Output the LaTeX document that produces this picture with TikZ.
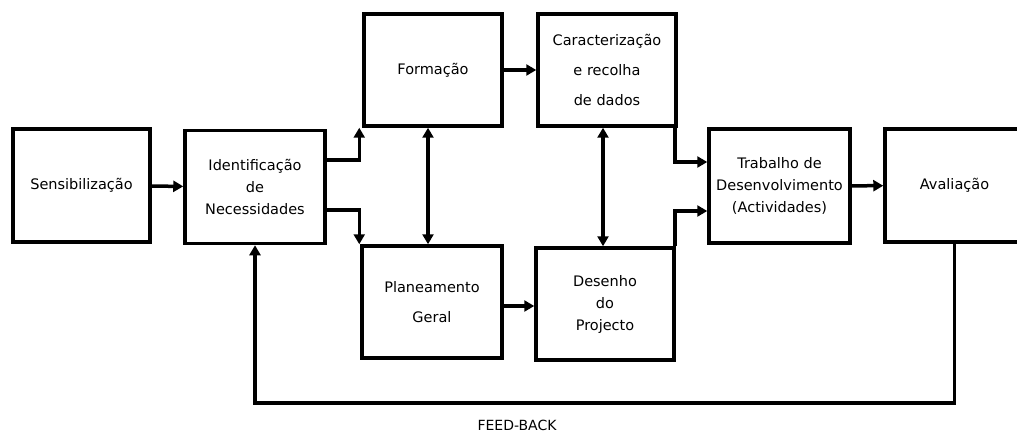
\documentclass[tikz,border=0pt]{standalone}
\usepackage{fontspec}
\setmainfont{DejaVu Sans}
\usetikzlibrary{arrows.meta}
\begin{document}
\begin{tikzpicture}[x=1pt,y=-1pt,line join=miter,
  box/.style={draw, line width=3.5pt, minimum width=138pt, minimum height=112pt, inner sep=0pt, align=center, font=\fontsize{14.5}{22}\selectfont},
  wide/.style={font=\fontsize{14.5}{30}\selectfont},
  arr/.style={line width=3.5pt, -{Triangle[length=10pt,width=11pt]}},
  darr/.style={line width=3.5pt, {Triangle[length=10pt,width=11pt]}-{Triangle[length=10pt,width=11pt]}},
  lbl/.style={font=\fontsize{14}{16}\selectfont}]
\useasboundingbox (0,0) rectangle (1017,433);
\clip (0,0) rectangle (1017,433);
\coordinate (y160) at (0,160);
\coordinate (y210) at (0,210);
\coordinate (y162) at (0,162);
\coordinate (y211) at (0,211);
\coordinate (y306) at (0,306);
\coordinate (y403) at (0,403);
\coordinate (x428) at (428,0);
\coordinate (x603) at (603,0);
\coordinate (x675) at (675,0);

\node[box, minimum width=137pt, minimum height=113pt] (sens) at (81.5,185.5) {Sensibilização};
\node[box, minimum width=140pt, minimum height=113pt] (ident) at (255,187) {Identificação\\de\\Necessidades};
\node[box] (form) at (433,70) {Formação};
\node[box, wide] (carac) at (607,70) {Caracterização\\e recolha\\de dados};
\node[box, wide, minimum width=140pt] (plan) at (432,302) {Planeamento\\Geral};
\node[box] (des) at (605,304) {Desenho\\do\\Projecto};
\node[box, minimum width=141pt, minimum height=114pt] (trab) at (779.5,186) {Trabalho de\\Desenvolvimento\\(Actividades)};
\node[box, minimum width=139pt, minimum height=113pt] (aval) at (954.5,185.5) {Avaliação};

\draw[arr] (sens) -- (ident);
\draw[arr] (ident.east |- y160) -| ([xshift=-3pt]form.south west);
\draw[arr] (ident.east |- y210) -| ([xshift=-1pt]plan.north west);
\draw[darr] (form.south -| x428) -- (plan.north -| x428);
\draw[darr] (carac.south -| x603) -- (des.north -| x603);
\draw[arr] (form) -- (carac);
\draw[arr] (plan.east |- y306) -- (des.west |- y306);
\draw[arr] (carac.south -| x675) |- (trab.west |- y162);
\draw[arr] (des.north -| x675) |- (trab.west |- y211);
\draw[arr] (trab) -- (aval);
\draw[arr] (aval.south) -- (aval.south |- y403) -| (ident.south);
\node[lbl] (fb) at (517,425) {FEED-BACK};
\end{tikzpicture}
\end{document}
